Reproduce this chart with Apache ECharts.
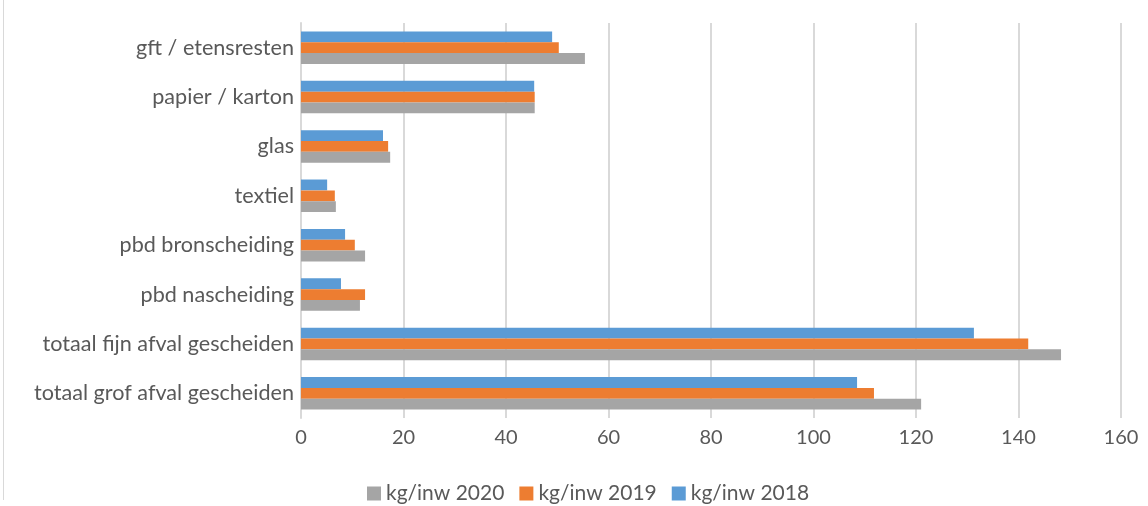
<!DOCTYPE html>
<html>
<head>
<meta charset="utf-8">
<script src="https://cdn.jsdelivr.net/npm/echarts@6/dist/echarts.min.js"></script>
<style>
  html, body { margin: 0; padding: 0; background: #fff; }
  #chart { width: 1148px; height: 506px; }
</style>
</head>
<body>
<div id="chart"></div>
<script>
// categories from bottom to top
var categories = [
  'totaal grof afval gescheiden',
  'totaal fijn afval gescheiden',
  'pbd nascheiding',
  'pbd bronscheiding',
  'textiel',
  'glas',
  'papier / karton',
  'gft / etensresten'
]
var data2020 = [121.0, 148.3, 11.5, 12.5, 6.8, 17.4, 45.6, 55.4]
var data2019 = [111.8, 141.9, 12.5, 10.5, 6.6, 17.0, 45.6, 50.3]
var data2018 = [108.5, 131.3, 7.8, 8.6, 5.1, 16.0, 45.5, 49.0]
var xTicks = [0, 20, 40, 60, 80, 100, 120, 140, 160]

var chart = echarts.init(document.getElementById('chart'))
var txt = '#595959'
var option = {
  color: ['#5B9BD5', '#ED7D31', '#A5A5A5'],
  textStyle: { fontFamily: 'Lato' },
  grid: { left: 301, right: 27, top: 23, bottom: 88 },
  legend: {
    top: 478,
    left: 362,
    icon: 'rect',
    itemWidth: 14,
    itemHeight: 14,
    itemGap: 15,
    textStyle: { color: txt, fontSize: 21, fontFamily: 'Lato' },
    data: ['kg/inw 2020', 'kg/inw 2019', 'kg/inw 2018']
  },
  xAxis: {
    type: 'value',
    min: xTicks[0],
    max: xTicks[xTicks.length - 1],
    interval: 20,
    axisLine: { show: false },
    axisTick: { show: false },
    splitLine: { lineStyle: { color: '#D9D9D9', width: 2 } },
    axisLabel: { color: txt, fontSize: 20, margin: 10, fontFamily: 'Lato' }
  },
  yAxis: {
    type: 'category',
    data: categories,
    axisLine: { show: true, lineStyle: { color: '#D9D9D9', width: 2 } },
    axisTick: { show: false },
    axisLabel: { color: txt, fontSize: 21.6, margin: 7, fontFamily: 'Lato' }
  },
  series: [
    { name: 'kg/inw 2018', type: 'bar', data: data2018, barGap: '0%', barCategoryGap: '34%' },
    { name: 'kg/inw 2019', type: 'bar', data: data2019, barGap: '0%', barCategoryGap: '34%' },
    { name: 'kg/inw 2020', type: 'bar', data: data2020, barGap: '0%', barCategoryGap: '34%' }
  ],
  graphic: [
    { type: 'line', shape: { x1: 3.5, y1: 0, x2: 3.5, y2: 500 }, style: { stroke: '#D9D9D9', lineWidth: 1 } }
  ]
}
chart.setOption(option)
</script>
</body>
</html>
